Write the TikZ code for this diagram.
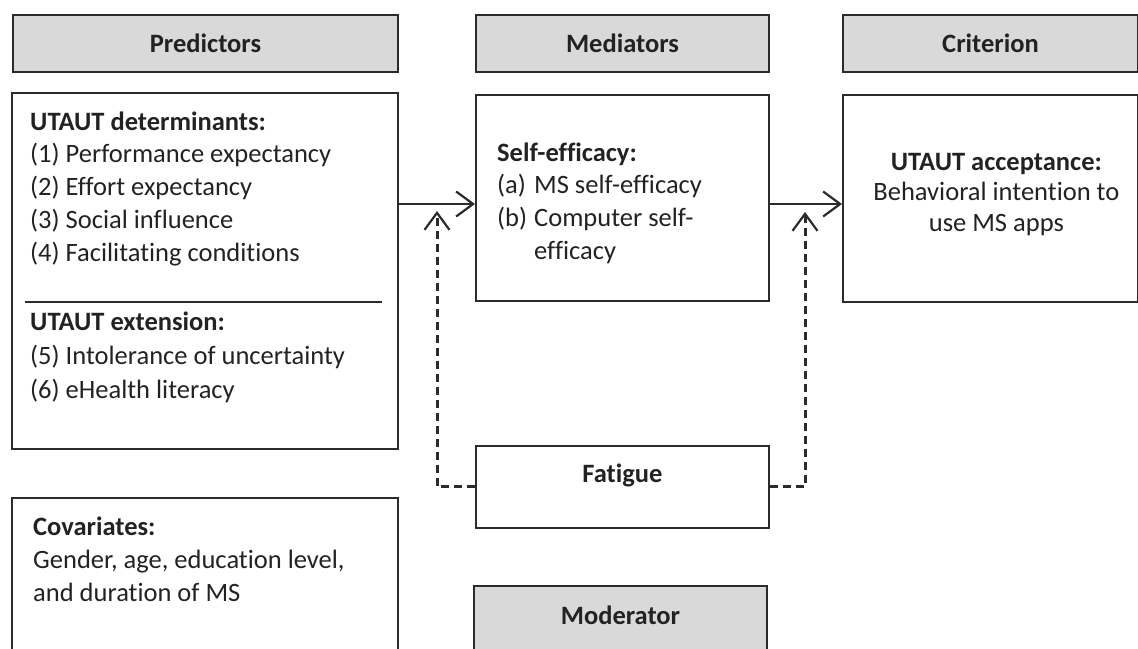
\documentclass[tikz,border=0pt]{standalone}
\usepackage{fontspec}
\setmainfont{Carlito}[Ligatures=NoCommon]
\usetikzlibrary{positioning,arrows.meta}
\definecolor{hdrgray}{HTML}{D9D9D9}
\definecolor{linegray}{HTML}{2B2B2B}
\definecolor{txtgray}{HTML}{222222}

\begin{document}
\begin{tikzpicture}[x=1pt,y=-1pt,
    hdr/.style={draw=linegray,fill=hdrgray,line width=2pt,minimum height=57pt,anchor=north west,inner sep=0pt,text=txtgray,font=\bfseries\fontsize{26.5}{32.5}\selectfont},
    frame/.style={draw=linegray,line width=1.8pt,anchor=north west,inner sep=0pt},
    txt/.style={inner sep=0pt,align=left,text=txtgray,font=\fontsize{26.5}{32.7}\selectfont},
    arr/.style={draw=linegray,line width=2pt,-{Straight Barb[length=17pt,width=25pt,line width=2.2pt]}},
    dasharr/.style={arr,line width=3pt,dash pattern=on 8pt off 5pt}]
\useasboundingbox (0,0) rectangle (1138,648);

% heads
\node[hdr,minimum width=385pt] (predhead) at (12,14) {Predictors};
\node[hdr,minimum width=293pt] (medhead) at (475,14) {Mediators};
\node[hdr,minimum width=295pt] (crithead) at (842,14) {Criterion};

% boxes
\node[frame,minimum width=386pt,minimum height=356pt] (pred) at (11,92) {};
\node[frame,minimum width=293pt,minimum height=206pt] (selfeff) at (475,94) {};
\node[frame,minimum width=295pt,minimum height=207pt] (crit) at (842,94) {};
\node[frame,minimum width=293pt,minimum height=82pt] (fat) at (475,445) {};
\node[frame,minimum width=386pt,minimum height=200pt] (cov) at (11,497) {};
\node[frame,fill=hdrgray,line width=2pt,minimum width=293pt,minimum height=100pt] (moder) at (473,585) {};

% texts
\node[txt,anchor=north west,below right=19.5pt and 19pt of pred.north west] (determ)
  {\textbf{UTAUT determinants:}\\(1) Performance expectancy\\(2) Effort expectancy\\(3) Social influence\\(4) Facilitating conditions};
\draw[linegray,line width=1.3pt] (25,302) -- (382,302);
\node[txt,font=\fontsize{26.5}{34}\selectfont,below right=219.5pt and 19pt of pred.north west] (extens)
  {\textbf{UTAUT extension:}\\(5) Intolerance of uncertainty\\(6) eHealth literacy};
\node[txt,below right=44pt and 22pt of selfeff.north west] (selftxt)
  {\begin{tabular}{@{}l@{\hspace{7pt}}l@{}}
    \multicolumn{2}{@{}l@{}}{\textbf{Self-efficacy:}}\\
    (a) & MS self-efficacy\\
    (b) & Computer self-\\
        & efficacy
  \end{tabular}};
\node[txt,align=center,font=\fontsize{26.5}{30.5}\selectfont,below=59pt of crit.north,xshift=6pt] (accept)
  {\textbf{UTAUT acceptance:}\\Behavioral intention to\\use MS apps};
\node[txt,font=\bfseries\fontsize{26.5}{32}\selectfont,below=19pt of fat.north] (fattxt) {Fatigue};
\node[txt,below right=20pt and 22pt of cov.north west] (covtxt)
  {\textbf{Covariates:}\\Gender, age, education level,\\and duration of MS};
\node[txt,font=\bfseries\fontsize{26.5}{32}\selectfont,below=21pt of moder.north] (modtxt) {Moderator};

% arrows
\coordinate (tipL) at (437,211);
\coordinate (tipR) at (805,212);
\draw[arr] (pred.east |- 0,204) -- (selfeff.west |- 0,204);
\draw[arr] (selfeff.east |- 0,204) -- (crit.west |- 0,204);
\draw[dasharr] (fat.west) -| (tipL);
\draw[dasharr] (fat.east) -| (tipR);
\end{tikzpicture}
\end{document}
